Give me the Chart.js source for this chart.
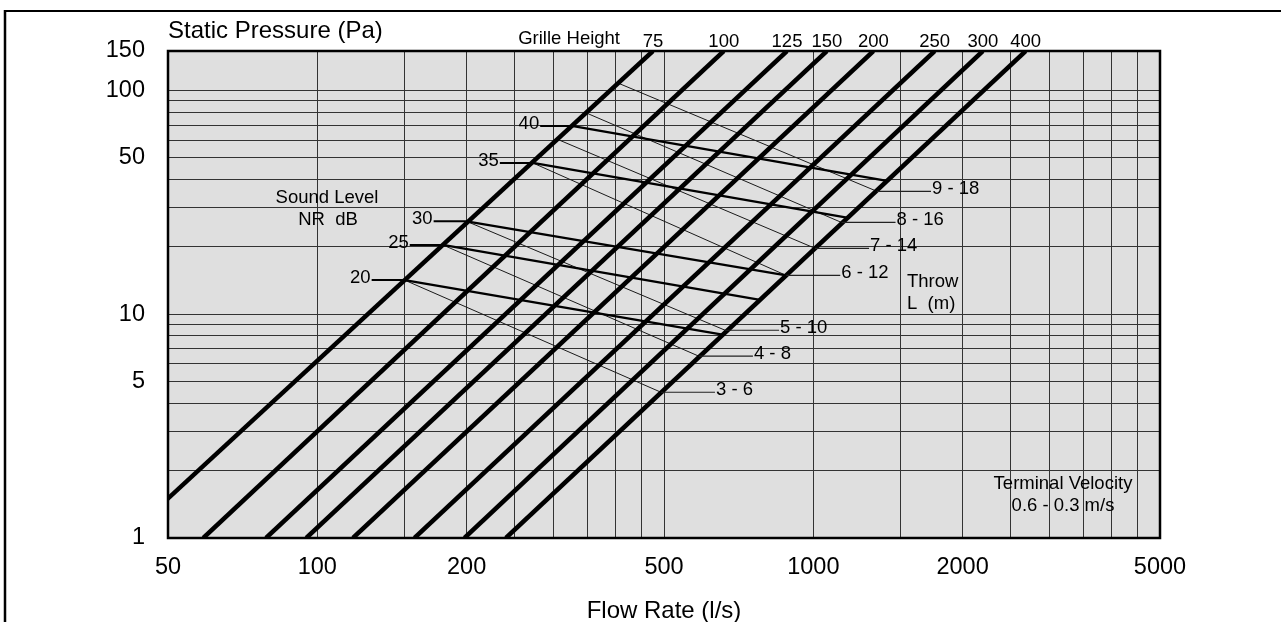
<!DOCTYPE html>
<html>
<head>
<meta charset="utf-8">
<title>Grille selection chart</title>
<script src="https://cdn.jsdelivr.net/npm/chart.js@4.4.1/dist/chart.umd.min.js"></script>
<style>
  html, body { margin: 0; padding: 0; background: #fff; }
  #wrap { position: relative; width: 1281px; height: 622px; }
</style>
</head>
<body>
<div id="wrap"><canvas id="chart"></canvas></div>
<script>
// Axis grid values and the ones that get a label
const xGridValues = [50, 100, 150, 200, 250, 300, 350, 400, 450, 500, 1000, 1500, 2000, 2500, 3000, 3500, 4000, 4500, 5000];
const xTickLabels = [50, 100, 200, 500, 1000, 2000, 5000];
const yGridValues = [1, 2, 3, 4, 5, 6, 7, 8, 9, 10, 20, 30, 40, 50, 60, 70, 80, 90, 100, 150];
const yTickLabels = [1, 5, 10, 50, 100, 150];

// Grille height lines: flow rate (l/s) where each line is at 1 Pa and at 150 Pa
const grilleHeights = [75, 100, 125, 150, 200, 250, 300, 400];
const grilleFlowLow = [41, 58.9, 78.8, 95, 118, 157, 198, 240];
const grilleFlowHigh = [475, 660, 885, 1065, 1322, 1757, 2197, 2680];

// Sound level lines (NR dB), from the 75 line to the 400 line
const nrLevels = [20, 25, 30, 35, 40];
const nrStartFlow = [150, 179, 200, 272, 328];
const nrStartPressure = [14.2, 20.4, 26, 47.4, 69.3];
const nrEndFlow = [656, 781, 882, 1169, 1408];
const nrEndPressure = [8.1, 11.6, 14.9, 27.0, 39.4];

// Throw lines L (m)
const throwLabels = ['3 - 6', '4 - 8', '5 - 10', '6 - 12', '7 - 14', '8 - 16', '9 - 18'];
const throwStartFlow = [150, 179, 200, 272, 308.5, 349, 404];
const throwStartPressure = [14.2, 20.4, 26, 47.4, 59.8, 79.2, 107.8];
const throwEndFlow = [493, 588, 664, 882, 1008, 1140, 1344];
const throwEndPressure = [4.48, 6.49, 8.48, 14.9, 19.7, 25.7, 35.4];

const FONT = "'Liberation Sans', Arial, Helvetica, sans-serif";
Chart.defaults.font.family = FONT;
Chart.defaults.color = '#000';

// build the datasets
const datasets = [];
grilleHeights.forEach((h, i) => {
  datasets.push({
    label: 'Grille ' + h,
    data: [{ x: grilleFlowLow[i], y: 1 }, { x: grilleFlowHigh[i], y: 150 }],
    borderColor: '#000',
    borderWidth: 4.5,
    clip: 0
  });
});
nrLevels.forEach((lvl, i) => {
  datasets.push({
    label: 'NR ' + lvl,
    data: [{ x: nrStartFlow[i], y: nrStartPressure[i] }, { x: nrEndFlow[i], y: nrEndPressure[i] }],
    borderColor: '#000',
    borderWidth: 2.3,
    clip: 0
  });
});
throwLabels.forEach((t, i) => {
  datasets.push({
    label: 'Throw ' + t,
    data: [{ x: throwStartFlow[i], y: throwStartPressure[i] }, { x: throwEndFlow[i], y: throwEndPressure[i] }],
    borderColor: '#1a1a1a',
    borderWidth: 1,
    clip: 0
  });
});

function drawLine(ctx, x1, y1, x2, y2, w, color) {
  ctx.beginPath();
  ctx.lineWidth = w;
  ctx.strokeStyle = color || '#000';
  ctx.moveTo(x1, y1);
  ctx.lineTo(x2, y2);
  ctx.stroke();
}

function drawText(ctx, txt, x, y, align, size) {
  ctx.font = size + 'px ' + FONT;
  ctx.textAlign = align;
  ctx.textBaseline = 'alphabetic';
  ctx.fillStyle = '#000';
  ctx.fillText(txt, x, y);
}

// background, frame, plot border and all the annotations
const decorPlugin = {
  id: 'decor',
  beforeDraw(chart) {
    const ctx = chart.ctx, a = chart.chartArea;
    ctx.save();
    ctx.fillStyle = '#fff';
    ctx.fillRect(0, 0, chart.width, chart.height);
    ctx.fillStyle = '#dfdfdf';
    ctx.fillRect(a.left, a.top, a.right - a.left, a.bottom - a.top);
    // outer frame (top and left edges)
    drawLine(ctx, 4, 11, chart.width, 11, 2);
    drawLine(ctx, 5, 10, 5, chart.height, 2.5);
    ctx.restore();
  },
  afterDatasetsDraw(chart) {
    const ctx = chart.ctx, a = chart.chartArea;
    const xs = chart.scales.x, ys = chart.scales.y;
    const px = v => xs.getPixelForValue(v);
    const py = v => ys.getPixelForValue(v);
    ctx.save();

    // plot border
    ctx.lineWidth = 2.5;
    ctx.strokeStyle = '#000';
    ctx.strokeRect(a.left, a.top, a.right - a.left, a.bottom - a.top);

    // NR labels with their leaders
    nrLevels.forEach((lvl, i) => {
      const x0 = px(nrStartFlow[i]), y0 = py(nrStartPressure[i]);
      drawLine(ctx, x0 - 33, y0, x0, y0, 2);
      drawText(ctx, String(lvl), x0 - 34, y0 + 3, 'right', 18.5);
    });

    // throw labels with their leaders
    throwLabels.forEach((t, i) => {
      const x1 = px(throwEndFlow[i]), y1 = py(throwEndPressure[i]);
      drawLine(ctx, x1, y1, x1 + 54, y1, 1.2, '#222');
      drawText(ctx, t, x1 + 55, y1 + 3, 'left', 18.5);
    });

    // grille heights along the top
    drawText(ctx, 'Grille Height', 620, a.top - 7, 'right', 18.5);
    grilleHeights.forEach((h, i) => {
      drawText(ctx, String(h), px(grilleFlowHigh[i]), a.top - 4.5, 'center', 18.5);
    });

    // notes inside the plot
    drawText(ctx, 'Sound Level', 327, 202.5, 'center', 18.5);
    drawText(ctx, 'NR  dB', 328, 225, 'center', 18.5);
    drawText(ctx, 'Throw', 907, 286.5, 'left', 18.5);
    drawText(ctx, 'L  (m)', 907, 308.5, 'left', 18.5);
    drawText(ctx, 'Terminal Velocity', 1063, 489, 'center', 18.5);
    drawText(ctx, '0.6 - 0.3 m/s', 1063, 511, 'center', 18.5);

    // axis titles
    drawText(ctx, 'Static Pressure (Pa)', a.left, 38, 'left', 24);
    drawText(ctx, 'Flow Rate (l/s)', (a.left + a.right) / 2, 618, 'center', 24);
    ctx.restore();
  }
};

new Chart(document.getElementById('chart'), {
  type: 'scatter',
  data: { datasets: datasets },
  options: {
    responsive: true,
    maintainAspectRatio: false,
    animation: false,
    events: [],
    showLine: true,
    elements: {
      point: { radius: 0 },
      line: { tension: 0, fill: false }
    },
    layout: { padding: { top: 51, right: 121, bottom: 0, left: 0 } },
    plugins: {
      legend: { display: false },
      tooltip: { enabled: false }
    },
    scales: {
      x: {
        type: 'logarithmic',
        min: 50,
        max: 5000,
        afterBuildTicks: (s) => { s.ticks = xGridValues.map(v => ({ value: v })); },
        afterFit: (s) => { s.height = 84; },
        border: { display: false },
        grid: { color: '#333', lineWidth: 1, drawTicks: false },
        ticks: {
          autoSkip: false,
          maxRotation: 0,
          padding: 15,
          font: { size: 23.5 },
          callback: (v) => xTickLabels.includes(v) ? String(v) : ''
        }
      },
      y: {
        type: 'logarithmic',
        min: 1,
        max: 150,
        afterBuildTicks: (s) => { s.ticks = yGridValues.map(v => ({ value: v })); },
        afterFit: (s) => { s.width = 168; },
        border: { display: false },
        grid: { color: '#333', lineWidth: 1, drawTicks: false },
        ticks: {
          autoSkip: false,
          padding: 23,
          font: { size: 23.5 },
          callback: (v) => yTickLabels.includes(v) ? String(v) : ''
        }
      }
    }
  },
  plugins: [decorPlugin]
});
</script>
</body>
</html>
